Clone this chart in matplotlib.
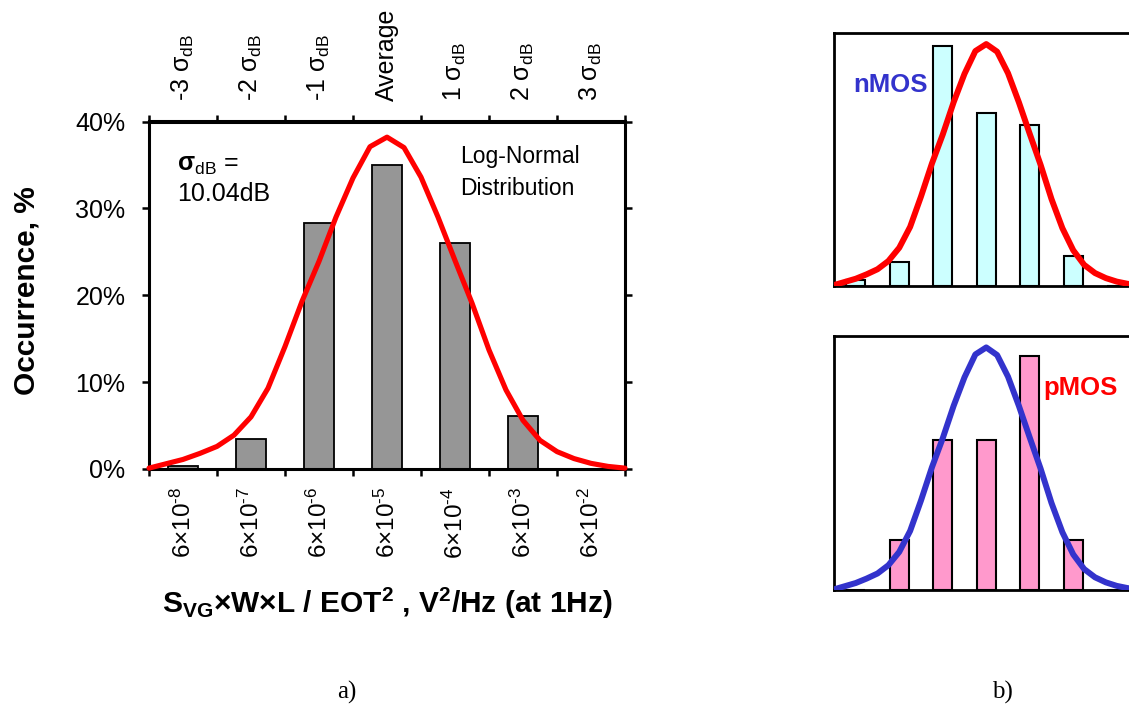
import matplotlib
matplotlib.use("Agg")
import matplotlib.pyplot as plt
import numpy as np

plt.rcParams["font.family"] = ["Liberation Sans", "DejaVu Sans"]
plt.rcParams["mathtext.fontset"] = "custom"
plt.rcParams["mathtext.rm"] = "Liberation Sans"
plt.rcParams["mathtext.bf"] = "Liberation Sans:bold"
plt.rcParams["mathtext.it"] = "Liberation Sans:italic"
plt.rcParams["mathtext.sf"] = "Liberation Sans"
plt.rcParams["mathtext.default"] = "regular"

# ---- data -------------------------------------------------------------
bin_labels = [r"6×10$^{‐8}$", r"6×10$^{‐7}$", r"6×10$^{‐6}$", r"6×10$^{‐5}$",
              r"6×10$^{‐4}$", r"6×10$^{‐3}$", r"6×10$^{‐2}$"]
sigma_labels = [r"-3 σ$_{dB}$", r"-2 σ$_{dB}$", r"-1 σ$_{dB}$", "Average",
                r"1 σ$_{dB}$", r"2 σ$_{dB}$", r"3 σ$_{dB}$"]
y_ticks = [0, 10, 20, 30, 40]
y_ticklabels = ["0%", "10%", "20%", "30%", "40%"]

# occurrence per noise bin, %
occ_all = [0.3, 3.4, 28.3, 35.0, 26.0, 6.1, 0.0]
occ_nmos = [0.9, 3.7, 37.9, 27.3, 25.4, 4.7, 0.0]
occ_pmos = [0.0, 7.8, 23.7, 23.7, 36.9, 7.8, 0.0]

# log-normal fit, offset from the average in units of sigma_dB, and value in %
fit_sigma = [-3.5, -3.25, -3.0, -2.75, -2.5, -2.25, -2.0, -1.75, -1.5, -1.25,
             -1.0, -0.75, -0.5, -0.25, 0.0, 0.25, 0.5, 0.75, 1.0, 1.25,
             1.5, 1.75, 2.0, 2.25, 2.5, 2.75, 3.0, 3.25, 3.5]
fit_pct = [0.1, 0.6, 1.1, 1.8, 2.6, 3.9, 6.0, 9.3, 14.1, 19.3,
           23.9, 29.0, 33.5, 37.1, 38.2, 37.0, 33.6, 29.0, 24.0, 19.1,
           13.7, 9.1, 5.6, 3.3, 2.0, 1.2, 0.65, 0.3, 0.1]
avg_bin = 3

# ---- figure -----------------------------------------------------------
W, H = 1129, 708
fig = plt.figure(figsize=(W / 100, H / 100), dpi=100)


def rect(x0, y0, x1, y1):
    """Axes rectangle from pixel corners (top-left origin)."""
    return [x0 / W, 1 - y1 / H, (x1 - x0) / W, (y1 - y0) / H]


def fpos(x, y):
    return x / W, 1 - y / H


xb = np.arange(len(bin_labels))
xfit = avg_bin + np.array(fit_sigma)

# ---- panel a ----------------------------------------------------------
ax = fig.add_axes(rect(149, 121.5, 625, 469))
ax.bar(xb, occ_all, width=0.43, color="#969696", edgecolor="black",
       linewidth=1.3, zorder=2)
ax.plot(xfit, fit_pct, color="#FF0000", lw=3.7, solid_capstyle="round",
        solid_joinstyle="round", zorder=3, clip_on=False)
ax.set_xlim(-0.5, 6.5)
ax.set_ylim(0, 40)
for s in ax.spines.values():
    s.set_linewidth(2.2)

ax.set_xticks(xb, bin_labels, rotation=90)
ax.set_xticks(np.arange(-0.5, 7.0, 1.0), minor=True)
ax.tick_params(axis="x", which="major", length=0, pad=13, labelsize=17.5)
ax.tick_params(axis="x", which="minor", bottom=True, top=True,
               direction="out", length=5, width=1.8)
ax.set_yticks(y_ticks, y_ticklabels)
ax.tick_params(axis="y", left=True, right=True, direction="out",
               length=5, width=1.8, pad=12, labelsize=18)

sec = ax.secondary_xaxis("top")
sec.set_xticks(xb, sigma_labels, rotation=90)
sec.tick_params(length=0, pad=15, labelsize=18)
sec.spines["top"].set_linewidth(2.2)

fig.text(*fpos(27, 291), "Occurrence, %", rotation=90, ha="center",
         va="center", fontsize=21.5, fontweight="bold")
fig.text(*fpos(387, 603),
         r"S$_{VG}$×W×L / EOT$^{2}$ , V$^{2}$/Hz (at 1Hz)",
         ha="center", va="center", fontsize=21.5, fontweight="bold")

fig.text(*fpos(177, 171), r"$\mathbf{σ}_{dB}$ =", ha="left", va="baseline",
         fontsize=18)
fig.text(*fpos(177, 201), "10.04dB", ha="left", va="baseline", fontsize=18)
fig.text(*fpos(460, 163), "Log-Normal", ha="left", va="baseline",
         fontsize=16.5)
fig.text(*fpos(460, 195), "Distribution", ha="left", va="baseline",
         fontsize=16.5)

# ---- panel b ----------------------------------------------------------
def small_panel(box, values, bar_color, curve_color):
    a = fig.add_axes(box)
    a.bar(xb, values, width=0.43, color=bar_color, edgecolor="black",
          linewidth=1.5, zorder=2)
    a.plot(xfit, fit_pct, color=curve_color, lw=4.3, solid_capstyle="round",
           solid_joinstyle="round", zorder=3)
    a.set_xlim(-0.5, 6.5)
    a.set_ylim(0, 40)
    a.set_xticks([])
    a.set_yticks([])
    for s in a.spines.values():
        s.set_linewidth(2.0)
    a.spines["right"].set_visible(False)
    return a


small_panel(rect(834, 32.7, 1138.5, 285.7), occ_nmos, "#CCFFFF", "#FF0000")
small_panel(rect(834, 336, 1138.5, 590), occ_pmos, "#FF99CC", "#3333CC")

fig.text(*fpos(853, 91.5), "nMOS", ha="left", va="baseline", fontsize=18.5,
         fontweight="bold", color="#3333CC")
fig.text(*fpos(1043, 395), "pMOS", ha="left", va="baseline", fontsize=18.5,
         fontweight="bold", color="#FF0000")

# ---- captions ---------------------------------------------------------
fig.text(*fpos(347, 699), "a)", ha="center", va="baseline", fontsize=18,
         family="Liberation Serif")
fig.text(*fpos(1002, 699), "b)", ha="center", va="baseline", fontsize=18,
         family="Liberation Serif")

fig.savefig("out.png", dpi=100)
